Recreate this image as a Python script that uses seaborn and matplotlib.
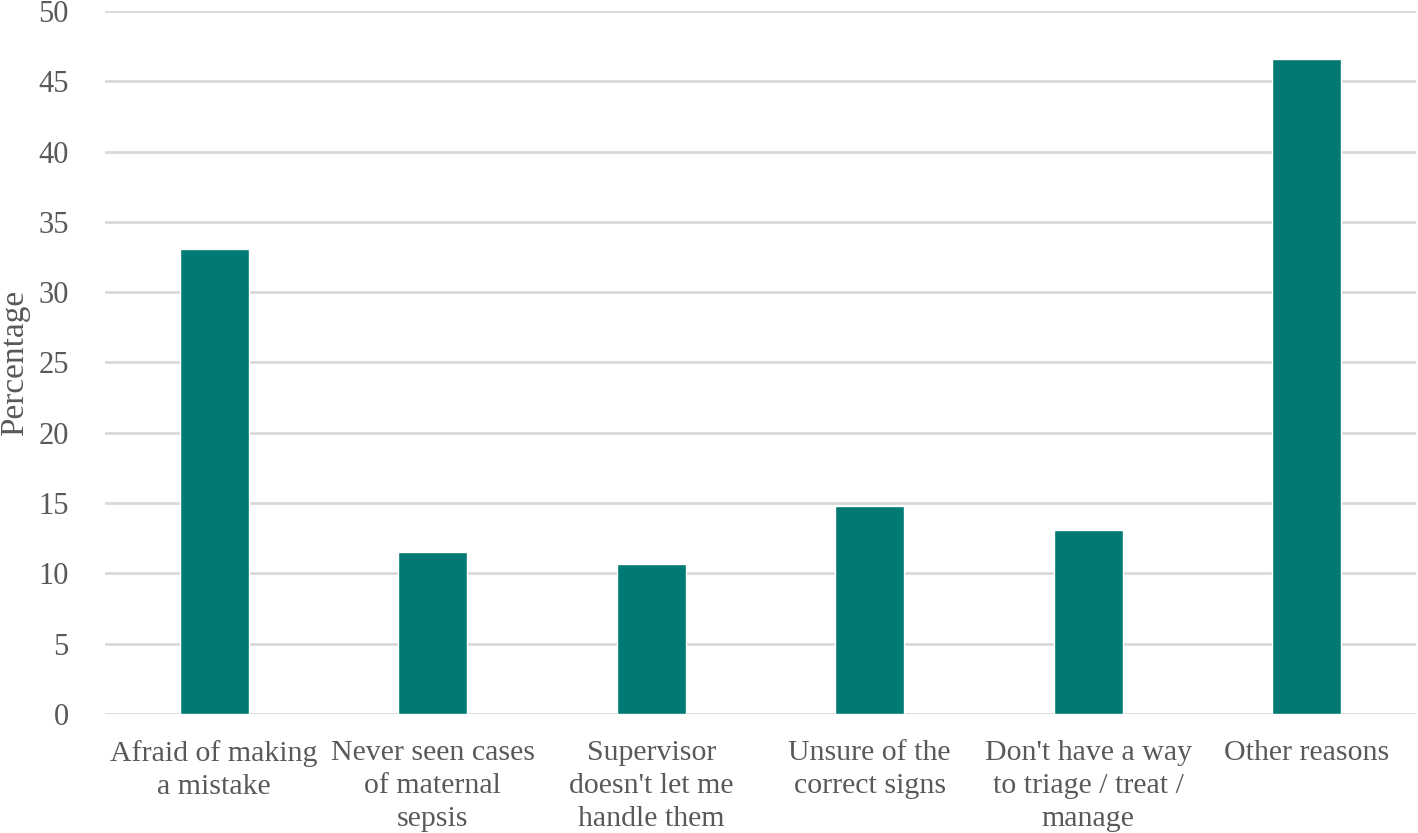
import matplotlib
matplotlib.use("Agg")
import matplotlib.pyplot as plt
import seaborn as sns
import pandas as pd

categories = ["Afraid of making\na mistake", "Never seen cases\nof maternal\nsepsis",
              "Supervisor\ndoesn't let me\nhandle them", "Unsure of the\ncorrect signs",
              "Don't have a way\nto triage / treat /\nmanage", "Other reasons"]
values = [33.1, 11.5, 10.7, 14.8, 13.1, 46.6]
yticks = [0, 5, 10, 15, 20, 25, 30, 35, 40, 45, 50]

sns.set_theme(style="white")
plt.rcParams['font.family'] = ['Liberation Serif', 'DejaVu Serif']

df = pd.DataFrame({"cat": categories, "val": values})
fig = plt.figure(figsize=(14.18, 8.33), dpi=100)
ax = fig.add_axes([0.074, 0.1429, 0.9246, 0.8439])
sns.barplot(data=df, x="cat", y="val", color="#007A73", width=0.316, saturation=1, ax=ax, zorder=3)
ax.set_ylim(0, 50)
ax.set_xlim(-0.5, len(categories) - 0.5)
ax.set_yticks(yticks)
ax.yaxis.grid(True, color="#d9d9d9", linewidth=2, zorder=0)
ax.set_axisbelow(True)
for s in ax.spines.values():
    s.set_visible(False)
ax.tick_params(axis="y", length=0, pad=26, labelsize=22, labelcolor="#595959")
ax.tick_params(axis="x", length=0, pad=19, labelsize=21.5, labelcolor="#595959")
ax.set_xlabel("")
ax.set_ylabel("Percentage", fontsize=24, color="#595959")
ax.yaxis.set_label_coords(-0.057, 0.5)
for lbl in ax.get_xticklabels():
    lbl.set_linespacing(1.33)
fig.savefig("out.png", dpi=100)
